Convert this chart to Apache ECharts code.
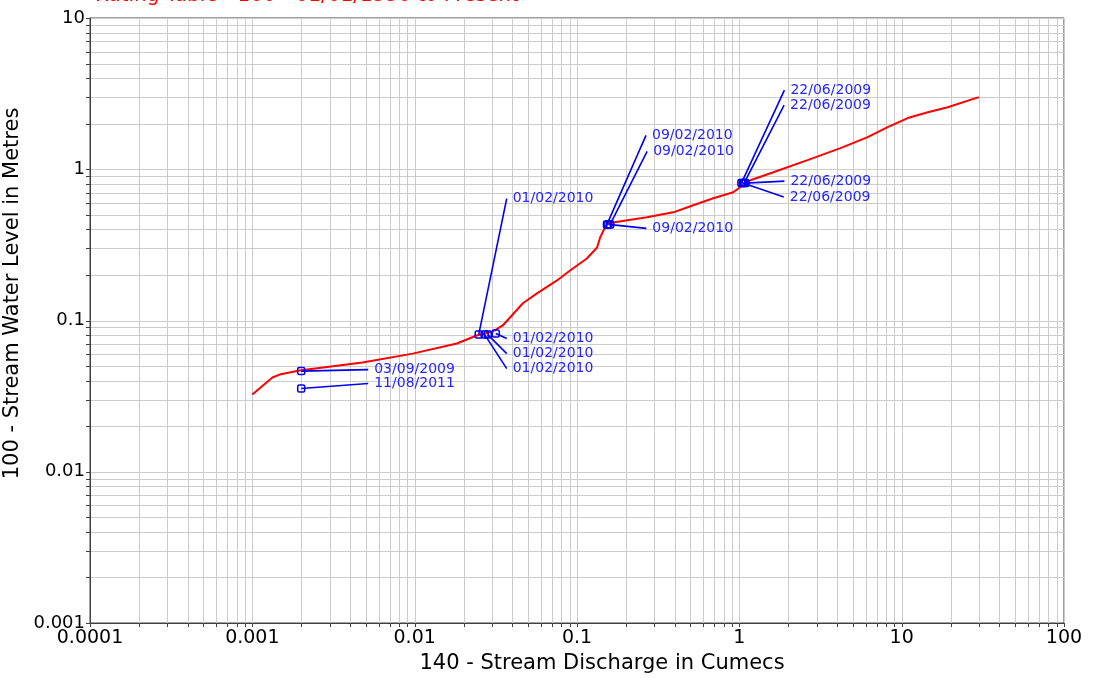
<!DOCTYPE html>
<html>
<head>
<meta charset="utf-8">
<script src="https://cdn.jsdelivr.net/npm/echarts@6/dist/echarts.min.js"></script>
<style>html,body{margin:0;padding:0;background:#fff;}#c{width:1094px;height:680px;}</style>
</head>
<body>
<div id="c"></div>
<script>
// ---- data ----
const titleText = 'Rating Table - 100 - 01/01/1990 to Present';
const xName = '140 - Stream Discharge in Cumecs';
const yName = '100 - Stream Water Level in Metres';
const xTickLabels = ['0.0001', '0.001', '0.01', '0.1', '1', '10', '100'];
const yTickLabels = ['0.001', '0.01', '0.1', '1', '10'];

// rating curve (discharge, level)
const ratingQ = [0.00100, 0.00133, 0.00147, 0.00195, 0.00477, 0.00972, 0.0182, 0.0241, 0.0303, 0.0349,
  0.0464, 0.0567, 0.0753, 0.0906, 0.115, 0.133, 0.139, 0.149, 0.155, 0.270, 0.392, 0.520, 0.691, 0.918,
  1.01, 1.17, 1.62, 2.63, 4.20, 6.17, 8.20, 10.9, 14.5, 19.2, 29.9];
const ratingH = [0.0324, 0.0420, 0.0439, 0.0467, 0.0527, 0.0604, 0.0705, 0.0796, 0.0846, 0.0927,
  0.130, 0.151, 0.184, 0.214, 0.257, 0.304, 0.355, 0.413, 0.439, 0.481, 0.519, 0.578, 0.643, 0.705,
  0.760, 0.846, 0.955, 1.15, 1.38, 1.63, 1.90, 2.18, 2.38, 2.57, 3.00];

// gaugings
const gaugeDates = ['03/09/2009', '11/08/2011', '01/02/2010', '01/02/2010', '01/02/2010', '01/02/2010',
  '09/02/2010', '09/02/2010', '09/02/2010', '22/06/2009', '22/06/2009', '22/06/2009', '22/06/2009'];
const gaugeQ = [0.002, 0.002, 0.0248, 0.0316, 0.0282, 0.027, 0.153, 0.160, 0.156, 1.03, 1.07, 1.09, 1.05];
const gaugeH = [0.0463, 0.0355, 0.0807, 0.082, 0.0807, 0.0807, 0.432, 0.432, 0.432, 0.81, 0.81, 0.81, 0.81];

// label placement (pixel offsets from the point to the label text start / middle)
const labelOffsets = [[73, -1.5], [73, -5], [34, -136], [17, 5], [25, 19], [28, 34],
  [45, -89], [43, -73], [44, 4], [49, -93], [46, -78], [45, -2], [47, 14]];

// ---- axis structure ----
const xMin = 0.0001, xMax = 100, yMin = 0.001, yMax = 10;
function decadeLines(lo, hi) {
  const major = [], minor = [];
  for (let e = Math.round(Math.log10(lo)); e <= Math.round(Math.log10(hi)); e++) {
    const d = Math.pow(10, e);
    major.push(d);
    if (e < Math.round(Math.log10(hi))) for (let k = 2; k <= 9; k++) minor.push(k * d);
  }
  return { major, minor };
}
const xl = decadeLines(xMin, xMax), yl = decadeLines(yMin, yMax);

const FONT = 'DejaVu Sans';
const BLUE_LINE = '#0000ee';
const BLUE_TEXT = '#2626ff';
const chart = echarts.init(document.getElementById('c'), null, { renderer: 'canvas' });

const option = {
  animation: false,
  backgroundColor: '#ffffff',
  grid: {
    left: 90, right: 30, top: 18, bottom: 57,
    containLabel: false, outerBoundsMode: 'none',
    show: true, borderColor: '#404040', borderWidth: 1, backgroundColor: 'transparent'
  },
  graphic: [{
    type: 'text', left: 95, top: -14, silent: true,
    style: { text: titleText, fill: '#ff0000', font: '20px "' + FONT + '"' }
  }],
  xAxis: {
    type: 'log', logBase: 10, min: xMin, max: xMax, splitNumber: 6,
    name: xName, nameLocation: 'middle', nameGap: 27,
    nameTextStyle: { color: '#000', fontFamily: FONT, fontSize: 21, padding: [0, 0, 0, 50] },
    axisLine: { show: true, lineStyle: { color: '#404040', width: 1 } },
    axisTick: { show: false },
    splitLine: { show: false },
    axisLabel: {
      color: '#000', fontFamily: FONT, fontSize: 19, margin: 6,
      showMinLabel: true, showMaxLabel: true,
      formatter: v => xTickLabels[Math.round(Math.log10(v) - Math.log10(xMin))]
    }
  },
  yAxis: {
    type: 'log', logBase: 10, min: yMin, max: yMax, splitNumber: 4,
    name: yName, nameLocation: 'middle', nameGap: 58,
    nameTextStyle: { color: '#000', fontFamily: FONT, fontSize: 21, padding: [0, 0, 0, 54] },
    axisLine: { show: true, lineStyle: { color: '#404040', width: 1 } },
    axisTick: { show: false },
    splitLine: { show: false },
    axisLabel: {
      color: '#000', fontFamily: FONT, fontSize: 18, margin: 5, padding: [0, 0, 6, 0],
      showMinLabel: true, showMaxLabel: true,
      formatter: v => yTickLabels[Math.round(Math.log10(v) - Math.log10(yMin))]
    }
  },
  series: [
    {
      type: 'custom', z: 0, silent: true, clip: false,
      data: [[1, 1]],
      renderItem: function (params, api) {
        const cs = params.coordSys;
        const children = [];
        const grid = { stroke: '#cccccc', lineWidth: 1 };
        const tick = { stroke: '#404040', lineWidth: 1 };
        const bottom = cs.y + cs.height, left = cs.x;
        xl.major.concat(xl.minor).forEach(v => {
          const x = Math.round(api.coord([v, yMin])[0]) + 0.5;
          children.push({ type: 'line', shape: { x1: x, y1: cs.y, x2: x, y2: bottom }, style: grid });
          children.push({ type: 'line', shape: { x1: x, y1: bottom, x2: x, y2: bottom + 4 }, style: tick });
        });
        yl.major.concat(yl.minor).forEach(v => {
          const y = Math.round(api.coord([xMin, v])[1]) + 0.5;
          children.push({ type: 'line', shape: { x1: left, y1: y, x2: left + cs.width, y2: y }, style: grid });
          children.push({ type: 'line', shape: { x1: left - 4, y1: y, x2: left, y2: y }, style: tick });
        });
        return { type: 'group', children: children };
      }
    },
    {
      type: 'line', z: 3, silent: true,
      data: ratingQ.map((q, i) => [q, ratingH[i]]),
      showSymbol: false, symbol: 'none',
      lineStyle: { color: '#ff0000', width: 2 }
    },
    {
      type: 'custom', z: 4, silent: true, clip: false,
      data: gaugeQ.map((q, i) => [q, gaugeH[i]]),
      renderItem: function (params, api) {
        const i = params.dataIndex;
        const p = api.coord([api.value(0), api.value(1)]);
        const o = labelOffsets[i];
        const tx = p[0] + o[0], ty = p[1] + o[1];
        return {
          type: 'group',
          children: [
            { type: 'line', shape: { x1: p[0], y1: p[1], x2: tx - 6, y2: ty },
              style: { stroke: BLUE_LINE, lineWidth: 1.6 } },
            { type: 'rect', shape: { x: p[0] - 3.5, y: p[1] - 3.5, width: 7, height: 7, r: 1.5 },
              style: { fill: 'rgba(255,255,255,0)', stroke: BLUE_LINE, lineWidth: 1.5 } },
            { type: 'text', x: tx, y: ty,
              style: { text: gaugeDates[i], fill: BLUE_TEXT, font: '14px "' + FONT + '"',
                       align: 'left', verticalAlign: 'middle' } }
          ]
        };
      }
    }
  ]
};
chart.setOption(option);
</script>
</body>
</html>
